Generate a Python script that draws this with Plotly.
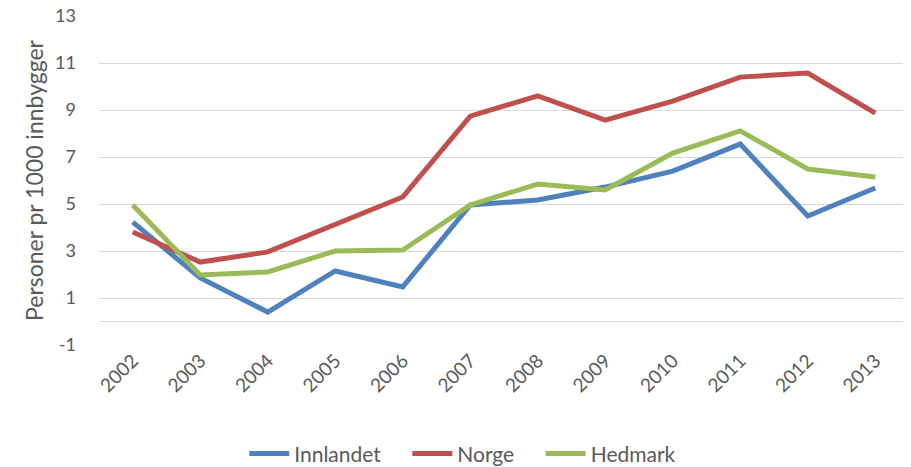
import plotly.graph_objects as go

years = ['2002', '2003', '2004', '2005', '2006', '2007',
         '2008', '2009', '2010', '2011', '2012', '2013']
innlandet = [4.23, 1.85, 0.40, 2.15, 1.47, 4.96, 5.17, 5.72, 6.40, 7.55, 4.49, 5.68]
norge = [3.81, 2.53, 2.96, 4.15, 5.30, 8.74, 9.60, 8.57, 9.38, 10.40, 10.57, 8.87]
hedmark = [4.96, 1.98, 2.11, 3.00, 3.04, 4.96, 5.85, 5.60, 7.17, 8.11, 6.49, 6.15]
y_ticks = [-1, 1, 3, 5, 7, 9, 11, 13]
y_ticktext = ['-1', '1', '3', '5', '7', '9', '11', '13']

series = [('Innlandet', innlandet, '#4F81BD'),
          ('Norge', norge, '#C0504D'),
          ('Hedmark', hedmark, '#9BBB59')]

fig = go.Figure()
for name, vals, col in series:
    # non-breaking spaces widen the gap between legend entries
    fig.add_trace(go.Scatter(x=years, y=vals, name=name + '\u00a0' * 4,
                             mode='lines', line=dict(color=col, width=5)))

# page body has an 8px margin, so the figure is offset by 8px
font = "Lato, Open Sans, sans-serif"
fig.update_layout(
    width=903, height=459,
    paper_bgcolor='white', plot_bgcolor='white',
    margin=dict(l=91, r=2, t=8, b=122, autoexpand=False),
    font=dict(family=font, color='#595959', size=19),
    legend=dict(orientation='h', x=0.462, xanchor='center', y=-0.331,
                yanchor='middle', font=dict(size=21), itemwidth=40,
                tracegroupgap=0),
    xaxis=dict(type='category', range=[-0.5, 11.5], tickangle=-45,
               showgrid=False, showline=False, ticks='',
               automargin=False, tickfont=dict(size=19)),
    yaxis=dict(range=[-1, 13], tickvals=y_ticks, ticktext=y_ticktext,
               showgrid=True, gridcolor='#D9D9D9', gridwidth=1.3,
               zeroline=True, zerolinecolor='#D9D9D9', zerolinewidth=1.3,
               ticks='', ticklabelstandoff=22, automargin=False,
               ticklabeloverflow='allow',
               title=dict(text='Personer pr 1000 innbygger',
                          font=dict(size=23), standoff=5),
               tickfont=dict(size=18)),
)

fig.write_html("out.html")
